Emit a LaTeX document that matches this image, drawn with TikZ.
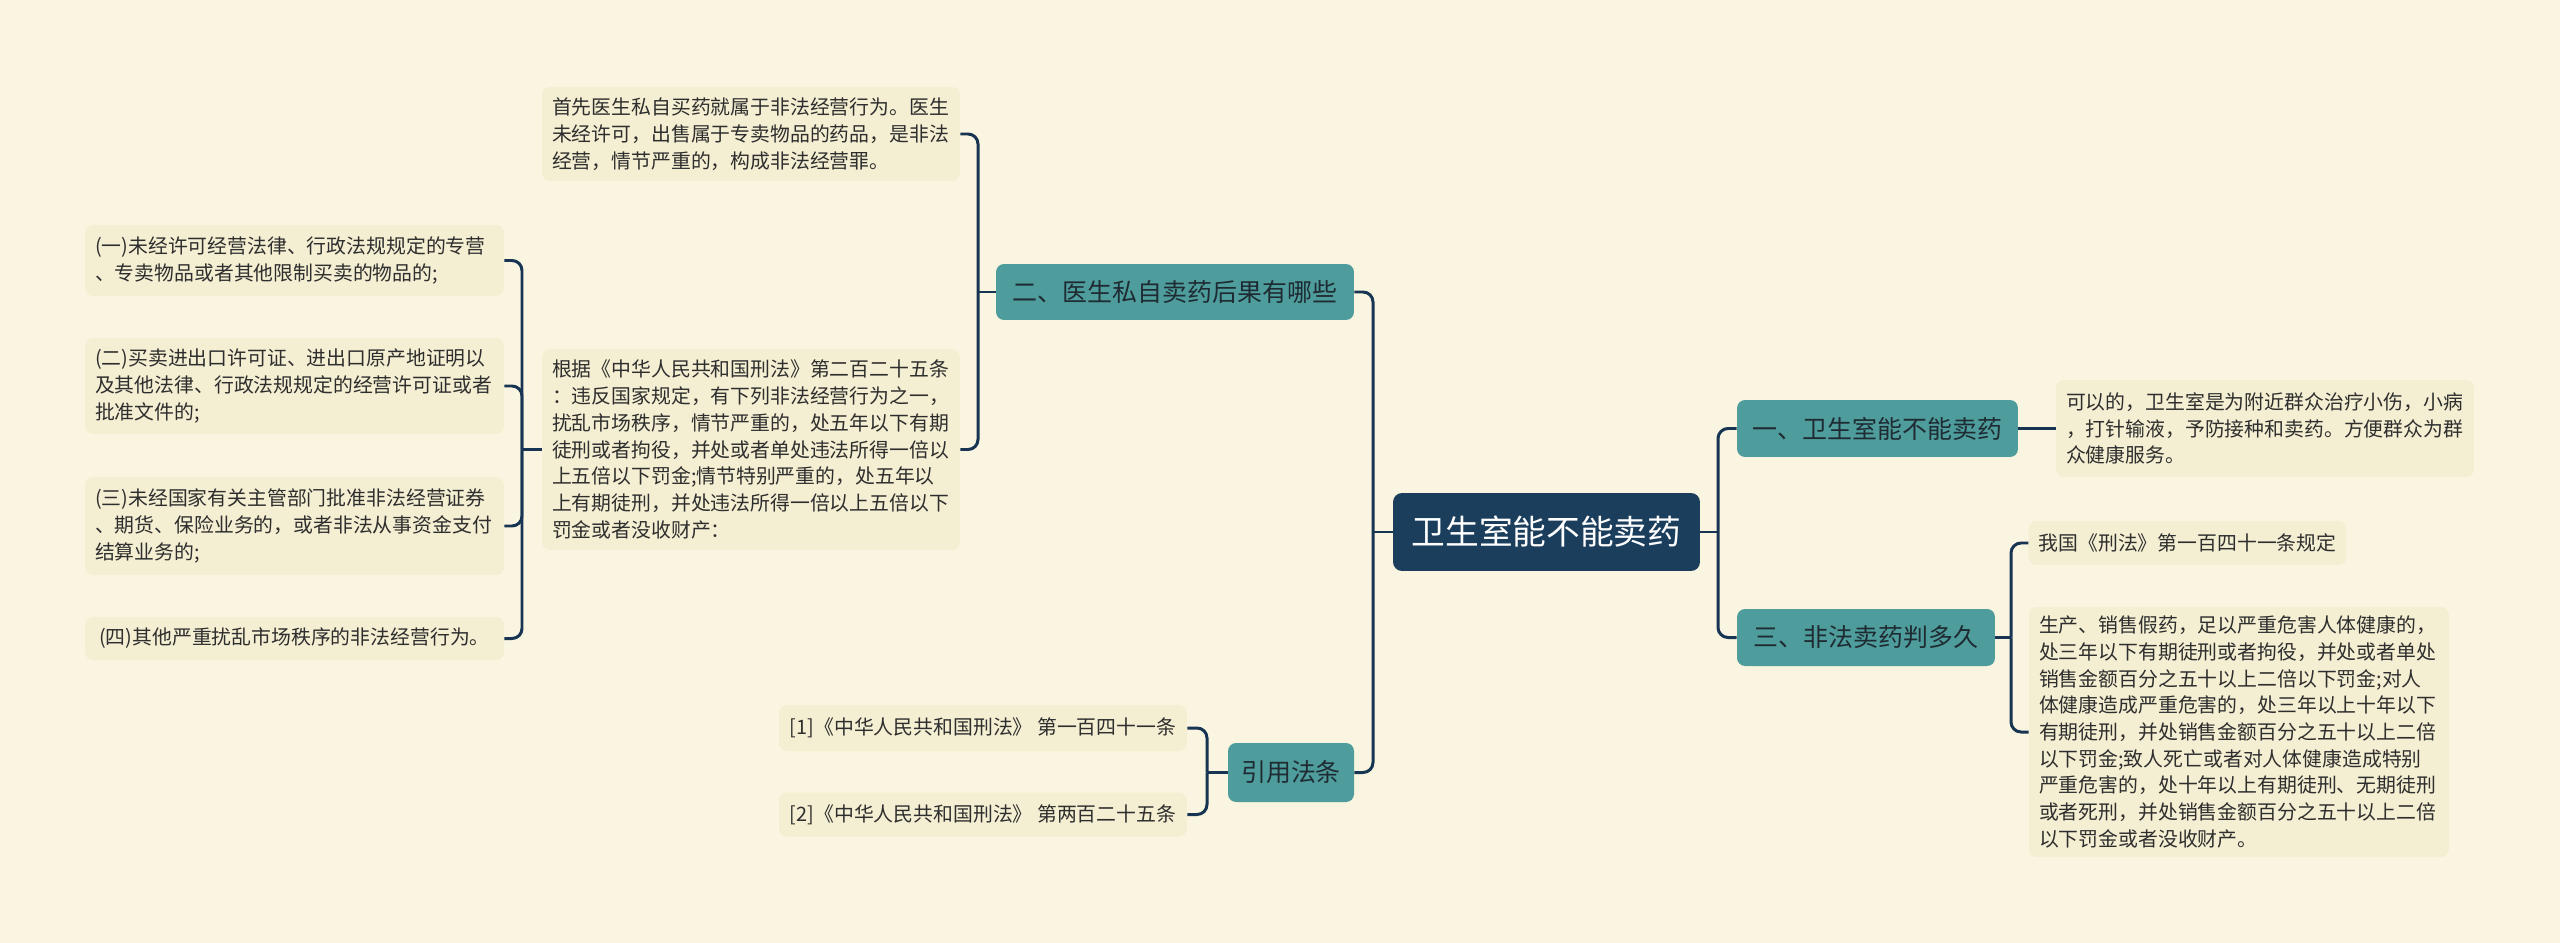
\documentclass[tikz,border=0pt]{standalone}
\usepackage{fontspec}
\usepackage{xcolor}
\newfontfamily\cjk{Noto Sans CJK SC}
\usetikzlibrary{calc}
\definecolor{bgcol}{HTML}{FAF5E0}
\definecolor{leafcol}{HTML}{F4EED2}
\definecolor{topiccol}{HTML}{4E9D9C}
\definecolor{topictxt}{HTML}{1F2B33}
\definecolor{rootcol}{HTML}{1C3E5D}
\definecolor{linecol}{HTML}{173452}
\definecolor{txtcol}{HTML}{2E2E2E}

\begin{document}
\begin{tikzpicture}[
  x=0.02cm, y=-0.02cm,
  leaf/.style={fill=leafcol, rounded corners=0.16cm, inner xsep=0.2cm, inner ysep=0pt, align=left, text=txtcol, font=\cjk\fontsize{11.3pt}{15.2pt}\selectfont},
  topic/.style={fill=topiccol, rounded corners=0.16cm, inner sep=0pt, text=topictxt, font=\cjk\fontsize{14.2pt}{17pt}\selectfont},
  root/.style={fill=rootcol, rounded corners=0.18cm, inner sep=0pt, text=white, font=\cjk\fontsize{19.2pt}{22pt}\selectfont},
  link/.style={draw=linecol, line width=1.7pt, rounded corners=0.2cm}
]
\fill[bgcol] (0,0) rectangle (2560,943);
\useasboundingbox (0,0) rectangle (2560,943);

% centre and main topics
\node[root, minimum width=6.14cm, minimum height=1.56cm] (root) at (1546.5,532) {卫生室能不能卖药};
\node[topic, minimum width=7.16cm, minimum height=1.12cm] (b2) at (1175,292) {二、医生私自卖药后果有哪些};
\node[topic, minimum width=2.52cm, minimum height=1.18cm] (b4) at (1291,772.5) {引用法条};
\node[topic, minimum width=5.62cm, minimum height=1.14cm] (b1) at (1877.5,428.5) {一、卫生室能不能卖药};
\node[topic, minimum width=5.16cm, minimum height=1.14cm] (b3) at (1866,637.5) {三、非法卖药判多久};

% left side leaves
\node[leaf, text width=7.96cm, minimum height=1.88cm] (q1) at (751,134) {首先医生私自买药就属于非法经营行为。医生\\未经许可，出售属于专卖物品的药品，是非法\\经营，情节严重的，构成非法经营罪。};
\node[leaf, text width=7.96cm, minimum height=4.02cm] (q2) at (751,449.5) {根据《中华人民共和国刑法》第二百二十五条\\：违反国家规定，有下列非法经营行为之一，\\扰乱市场秩序，情节严重的，处五年以下有期\\徒刑或者拘役，并处或者单处违法所得一倍以\\上五倍以下罚金;情节特别严重的，处五年以\\上有期徒刑，并处违法所得一倍以上五倍以下\\罚金或者没收财产：};
\node[leaf, text width=7.98cm, minimum height=1.42cm] (l1) at (294.5,260.5) {(一)未经许可经营法律、行政法规规定的专营\\、专卖物品或者其他限制买卖的物品的;};
\node[leaf, text width=7.98cm, minimum height=1.92cm] (l2) at (294.5,386) {(二)买卖进出口许可证、进出口原产地证明以\\及其他法律、行政法规规定的经营许可证或者\\批准文件的;};
\node[leaf, text width=7.98cm, minimum height=1.96cm] (l3) at (294.5,526) {(三)未经国家有关主管部门批准非法经营证券\\、期货、保险业务的，或者非法从事资金支付\\结算业务的;};
\node[leaf, align=center, minimum width=8.38cm, minimum height=0.86cm] (l4) at (294.5,638.5) {(四)其他严重扰乱市场秩序的非法经营行为。};
\node[leaf, align=center, minimum width=8.16cm, minimum height=0.92cm] (r1) at (983,728) {[1]《中华人民共和国刑法》 第一百四十一条};
\node[leaf, align=center, minimum width=8.16cm, minimum height=0.88cm] (r2) at (983,814.5) {[2]《中华人民共和国刑法》 第两百二十五条};

% right side leaves
\node[leaf, text width=7.96cm, minimum height=1.94cm] (a1) at (2265,428.5) {可以的，卫生室是为附近群众治疗小伤，小病\\，打针输液，予防接种和卖药。方便群众为群\\众健康服务。};
\node[leaf, align=center, minimum width=6.34cm, minimum height=0.88cm] (c1) at (2187.5,543) {我国《刑法》第一百四十一条规定};
\node[leaf, text width=8.0cm, minimum height=5.0cm] (c2) at (2239,732) {生产、销售假药，足以严重危害人体健康的，\\处三年以下有期徒刑或者拘役，并处或者单处\\销售金额百分之五十以上二倍以下罚金;对人\\体健康造成严重危害的，处三年以上十年以下\\有期徒刑，并处销售金额百分之五十以上二倍\\以下罚金;致人死亡或者对人体健康造成特别\\严重危害的，处十年以上有期徒刑、无期徒刑\\或者死刑，并处销售金额百分之五十以上二倍\\以下罚金或者没收财产。};

% bracket joints
\coordinate (sL) at (1373,532);
\coordinate (sR) at (1718,532);
\coordinate (s2) at (978,292);
\coordinate (s3) at (522,449.5);
\coordinate (s4) at (1207,772.5);
\coordinate (s5) at (2011,637.5);

\draw[link] (root.west) -- (sL);
\draw[link] (b2.east) -| (sL);
\draw[link] (b4.east) -| (sL);
\draw[link] (root.east) -- (sR);
\draw[link] (b1.west) -| (sR);
\draw[link] (b3.west) -| (sR);

\draw[link] (b2.west) -- (s2);
\draw[link] (q1.east) -| (s2);
\draw[link] (q2.east) -| (s2);

\draw[link] (q2.west) -- (s3);
\draw[link] (l1.east) -| (s3);
\draw[link] (l2.east) -| (s3);
\draw[link] (l3.east) -| (s3);
\draw[link] (l4.east) -| (s3);

\draw[link] (b4.west) -- (s4);
\draw[link] (r1.east) -| (s4);
\draw[link] (r2.east) -| (s4);

\draw[link] (b1.east) -- (a1.west);
\draw[link] (b3.east) -- (s5);
\draw[link] (c1.west) -| (s5);
\draw[link] (c2.west) -| (s5);
\end{tikzpicture}
\end{document}
